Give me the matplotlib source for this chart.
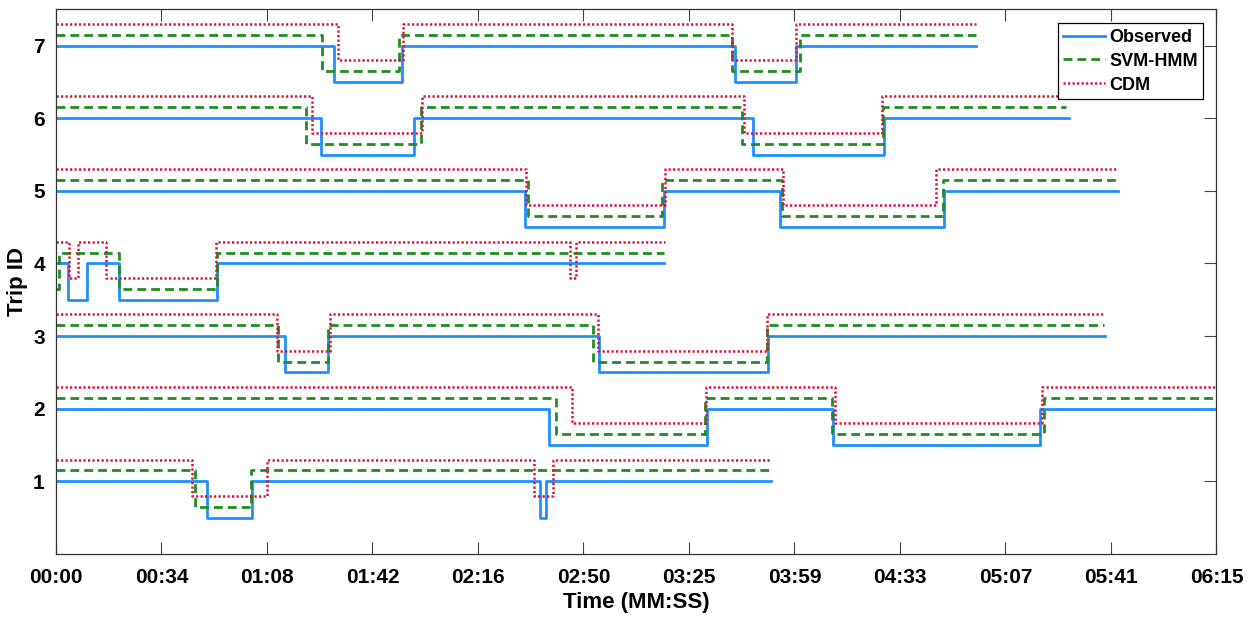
import numpy as np
import matplotlib
matplotlib.use("Agg")
import matplotlib.pyplot as plt

plt.rcParams['font.family'] = ['Liberation Sans', 'DejaVu Sans']
plt.rcParams['font.weight'] = 'bold'

# trip IDs and switch times (s); state alternates from the start state
trip_ids = [1, 2, 3, 4, 5, 6, 7]

obs_edges = [
    [0, 48.9, 63.5, 156.4, 158.3, 231.2],
    [0, 159.4, 210.4, 251.2, 318.1, 375],
    [0, 73.9, 87.9, 175.5, 230.0, 338.9],
    [0, 3.9, 9.9, 20.5, 52.1, 196.4],
    [0, 151.5, 196.4, 234.0, 287.0, 343.2],
    [0, 85.5, 115.7, 225.3, 267.5, 327.2],
    [0, 89.8, 111.9, 219.5, 239.2, 297.3],
]
svm_edges = [
    [0, 44.9, 62.9, 230.7],
    [0, 161.7, 209.7, 250.8, 319.2, 375],
    [0, 71.8, 87.9, 173.4, 229.6, 338.6],
    [0, 0.9, 20.5, 51.9, 196.4],
    [0, 152.6, 195.7, 234.7, 286.5, 342.7],
    [0, 80.7, 117.8, 221.6, 267.3, 326.5],
    [0, 85.8, 110.9, 218.5, 240.5, 297.3],
]
cdm_edges = [
    [0, 43.8, 68.3, 154.4, 160.5, 231.2],
    [0, 166.6, 210.0, 251.7, 318.6, 375],
    [0, 71.5, 88.7, 175.1, 229.8, 338.4],
    [0, 4.1, 7.1, 16.2, 51.7, 166.1, 168.0, 196.8],
    [0, 151.9, 196.8, 235.0, 284.5, 342.7],
    [0, 82.6, 118.4, 222.3, 266.9, 326.8],
    [0, 91.2, 112.2, 218.5, 239.2, 297.3],
]
# 1 = moving, 0 = stopped at start of each trip
obs_start = [1, 1, 1, 1, 1, 1, 1]
svm_start = [1, 1, 1, 0, 1, 1, 1]
cdm_start = [1, 1, 1, 1, 1, 1, 1]

xtick_labels = ['00:00', '00:34', '01:08', '01:42', '02:16', '02:50',
                '03:25', '03:59', '04:33', '05:07', '05:41', '06:15']

series = [
    ('Observed', obs_edges, obs_start, 0.0, dict(color='#1f8fff', lw=2.0, ls='-')),
    ('SVM-HMM', svm_edges, svm_start, 0.15, dict(color='#228b22', lw=2.0, ls=(0, (3.2, 1.8)))),
    ('CDM', cdm_edges, cdm_start, 0.3, dict(color='#dc143c', lw=1.8, ls=(0, (0.9, 0.9)))),
]

fig = plt.figure(figsize=(12.58, 6.19), dpi=100)
ax = fig.add_axes([0.0445, 0.105, 0.9225, 0.88])

for name, edges_all, starts, off, style in series:
    for k, tid in enumerate(trip_ids):
        edges = edges_all[k]
        s = starts[k]
        states = [(s + i) % 2 for i in range(len(edges) - 1)]
        lev = [tid + off - 0.5 * (1 - st) for st in states]
        lev.append(lev[-1])
        ax.step(edges, lev, where='post', label=name if k == 0 else None, **style)

ax.set_xlim(0, 375)
ax.set_ylim(0, 7.5)
ax.set_xticks(np.linspace(0, 375, len(xtick_labels)))
ax.set_xticklabels(xtick_labels)
ax.set_yticks(trip_ids)
ax.tick_params(direction='in', length=8.5, width=0.8, color='#444444',
               top=True, right=True, labelsize=15)
ax.tick_params(axis='x', pad=10)
ax.tick_params(axis='y', pad=8)
for sp in ax.spines.values():
    sp.set_color('#333333')
    sp.set_linewidth(0.9)
ax.set_xlabel('Time (MM:SS)', fontsize=16, fontweight='bold', labelpad=4)
ax.set_ylabel('Trip ID', fontsize=16, fontweight='bold', labelpad=4)

leg = ax.legend(loc='upper right', bbox_to_anchor=(0.9885, 0.974), borderaxespad=0,
                fancybox=False, edgecolor='black', framealpha=1, fontsize=13,
                handlelength=2.3, handletextpad=0.25, labelspacing=0.38,
                borderpad=0.3)
leg.get_frame().set_linewidth(0.9)

fig.savefig('out.png', dpi=100)
